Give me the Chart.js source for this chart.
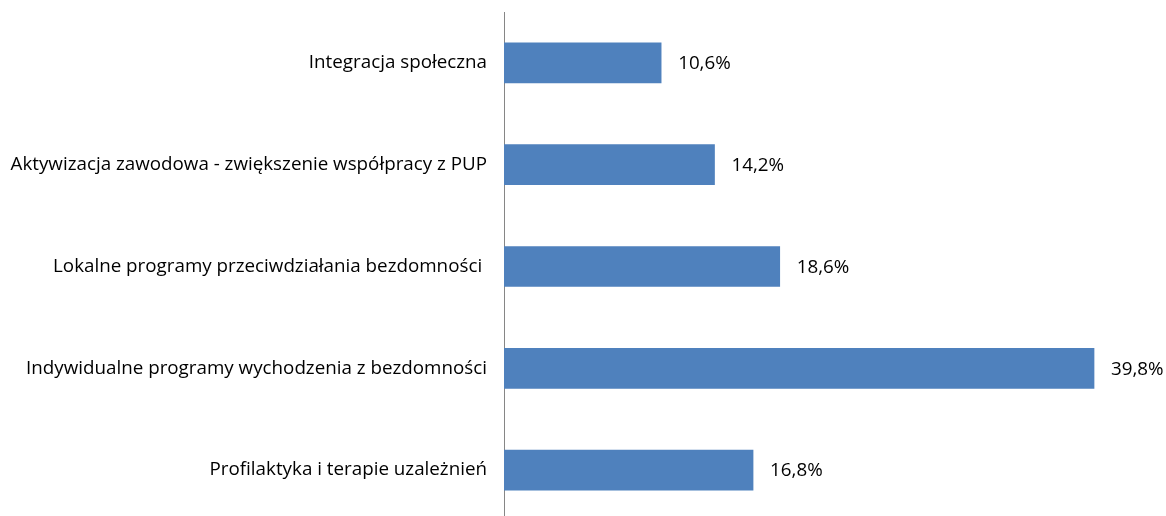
<!DOCTYPE html>
<html>
<head>
<meta charset="utf-8">
<script src="https://cdn.jsdelivr.net/npm/chart.js@4"></script>
<style>
    html, body { margin: 0; padding: 0; background: #ffffff; overflow: hidden; }
</style>
</head>
<body>
<canvas id="myChart" width="1166" height="521"></canvas>
<script>
    const labels = [
        'Integracja społeczna',
        'Aktywizacja zawodowa - zwiększenie współpracy z PUP',
        'Lokalne programy przeciwdziałania bezdomności ',
        'Indywidualne programy wychodzenia z bezdomności',
        'Profilaktyka i terapie uzależnień'
    ];

    const values = [10.6, 14.2, 18.6, 39.8, 16.8];

    const fontFamily = '"Open Sans", Lato, sans-serif';
    const fontSize = 18.8;

    // draws the "10,6%" text right after each bar
    const valueLabels = {
        id: 'valueLabels',
        afterDatasetsDraw(chart) {
            const ctx = chart.ctx;
            const meta = chart.getDatasetMeta(0);
            ctx.save();
            ctx.font = fontSize + 'px ' + fontFamily;
            ctx.fillStyle = '#000000';
            ctx.textAlign = 'left';
            ctx.textBaseline = 'middle';
            meta.data.forEach(function (bar, i) {
                const txt = values[i].toFixed(1).replace('.', ',') + '%';
                ctx.fillText(txt, bar.x + 17, bar.y + 1);
            });
            ctx.restore();
        }
    };

    const data = {
        labels: labels,
        datasets: [{
            data: values,
            backgroundColor: '#4F81BD',
            borderWidth: 0,
            barThickness: 40
        }]
    };

    const config = {
        type: 'bar',
        data: data,
        options: {
            indexAxis: 'y',
            responsive: false,
            animation: false,
            layout: {
                padding: { top: 12, right: 69, bottom: 0, left: 0 }
            },
            plugins: {
                legend: { display: false },
                tooltip: { enabled: false }
            },
            scales: {
                x: {
                    display: false,
                    min: 0,
                    max: 40
                },
                y: {
                    grid: { display: false, drawTicks: false },
                    border: { display: true, color: '#868686', width: 1 },
                    ticks: {
                        color: '#000000',
                        padding: 17,
                        font: { family: fontFamily, size: fontSize }
                    },
                    afterFit: function (scale) {
                        scale.width = 504;
                        scale.paddingTop = 0;
                        scale.paddingBottom = 0;
                    }
                }
            }
        },
        plugins: [valueLabels]
    };

    const myChart = new Chart(
        document.getElementById('myChart'),
        config
    );
</script>
</body>
</html>
